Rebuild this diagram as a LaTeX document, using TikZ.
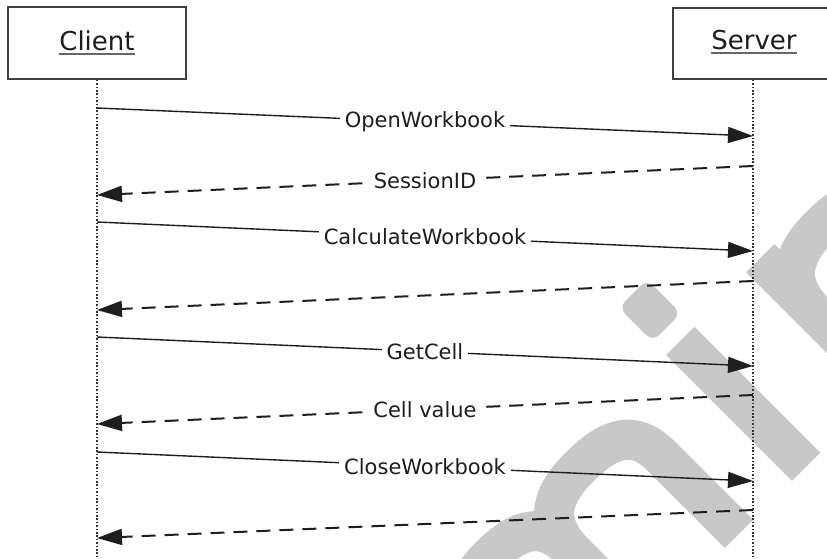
\documentclass[tikz,border=0pt]{standalone}
\usepackage{fontspec}
\setmainfont{DejaVu Sans}
\usetikzlibrary{arrows.meta}
\definecolor{wm}{HTML}{C8C8C8}
\definecolor{ink}{HTML}{1E1E1E}
\begin{document}
\begin{tikzpicture}[x=1pt,y=-1pt,
  actor/.style={draw=black!75, line width=1.6pt, inner sep=0pt},
  title/.style={font=\fontsize{26}{30}\selectfont, text=ink, inner sep=0pt},
  uline/.style={draw=black!60, line width=2pt},
  life/.style={draw=black!80, line width=1.6pt, dash pattern=on 1.6pt off 1.8pt},
  call/.style={draw=ink, line width=1.4pt, -{Triangle[length=25pt,width=16pt]}},
  reply/.style={draw=ink, line width=2pt, dash pattern=on 14pt off 9pt, -{Triangle[length=25pt,width=16pt]}},
  lbl/.style={font=\fontsize{21}{25}\selectfont, text=ink, fill=white, inner xsep=5pt, inner ysep=2pt},
  wmstroke/.style={draw=wm, line width=40pt, line cap=butt}
]
\useasboundingbox (0,0) rectangle (827,558);
\fill[white] (0,0) rectangle (827,558);

% watermark: the word "min" rotated by 45 degrees
\begin{scope}
\clip (0,0) rectangle (827,558);
\begin{scope}[x={(0.7071pt,0.7071pt)}, y={(-0.7071pt,0.7071pt)}]
  % m
  \draw[wmstroke] (-110,-720) -- (-110,-900);
  \draw[wmstroke] (-110,-790) .. controls (-107,-752) and (-85,-740) .. (-47,-740)
                  .. controls (-7,-740) and (15,-752) .. (15,-790) -- (15,-900);
  \draw[wmstroke] (15,-790) .. controls (18,-752) and (40,-740) .. (80,-740)
                  .. controls (122,-740) and (145,-752) .. (145,-790) -- (145,-900);
  % i
  \draw[wmstroke] (240,-722) -- (240,-900);
  \fill[wm, rounded corners=9pt] (220,-703) -- (260,-703) -- (260,-655) -- (220,-655) -- cycle;
  % n
  \draw[wmstroke] (355,-720) -- (355,-900);
  \draw[wmstroke] (355,-790) .. controls (358,-752) and (382,-740) .. (420,-740)
                  .. controls (462,-740) and (485,-752) .. (485,-790) -- (485,-900);
\end{scope}
\end{scope}

% actors
\node[actor, minimum width=178pt, minimum height=72pt] (client) at (97,43) {};
\node[actor, minimum width=160pt, minimum height=71pt] (server) at (753,43.5) {};
\node[title, anchor=base] (clientname) at (97,50) {Client};
\node[title, anchor=base] (servername) at (754,49) {Server};
\draw[uline] ([yshift=-4pt]clientname.base west) -- ([yshift=-4pt]clientname.base east);
\draw[uline] ([yshift=-4pt]servername.base west) -- ([yshift=-4pt]servername.base east);

% lifelines
\coordinate (cend) at (97,558);
\coordinate (send) at (753,558);
\draw[life] (client.south) -- (cend);
\draw[life] (server.south) -- (send);

% messages
\coordinate (c1) at (97,108);  \coordinate (s1) at (753,136);
\coordinate (s2) at (753,166); \coordinate (c2) at (97,195);
\coordinate (c3) at (97,222);  \coordinate (s3) at (753,251);
\coordinate (s4) at (753,281); \coordinate (c4) at (97,310);
\coordinate (c5) at (97,337);  \coordinate (s5) at (753,366);
\coordinate (s6) at (753,395); \coordinate (c6) at (97,424);
\coordinate (c7) at (97,452);  \coordinate (s7) at (753,481);
\coordinate (s8) at (753,510); \coordinate (c8) at (97,538);

\draw[call]  (c1) -- node[lbl] (m1) {OpenWorkbook} (s1);
\draw[reply] (s2) -- node[lbl] (m2) {SessionID} (c2);
\draw[call]  (c3) -- node[lbl] (m3) {CalculateWorkbook} (s3);
\draw[reply] (s4) -- (c4);
\draw[call]  (c5) -- node[lbl] (m5) {GetCell} (s5);
\draw[reply] (s6) -- node[lbl] (m6) {Cell value} (c6);
\draw[call]  (c7) -- node[lbl] (m7) {CloseWorkbook} (s7);
\draw[reply] (s8) -- (c8);
\end{tikzpicture}
\end{document}
